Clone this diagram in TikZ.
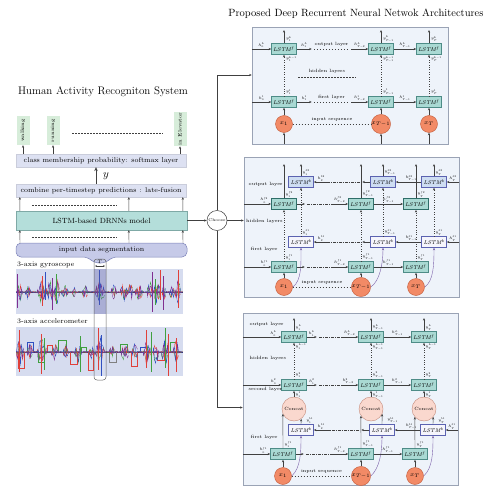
\RequirePackage{fix-cm}
\documentclass[tikz,border=0pt]{standalone}
\usepackage{fontspec}
\usetikzlibrary{calc,arrows.meta}
\definecolor{panelfill}{HTML}{EEF3FA}
\definecolor{panelline}{HTML}{9AA3B5}
\definecolor{ffill}{HTML}{A9D9D3}
\definecolor{fdraw}{HTML}{4E8C87}
\definecolor{fdark}{HTML}{2F6E69}
\definecolor{bdraw}{HTML}{5B62B0}
\definecolor{bfillu}{HTML}{CEDDF2}
\definecolor{bfilll}{HTML}{F5F5FC}
\definecolor{xfill}{HTML}{F28A66}
\definecolor{xdraw}{HTML}{C25A38}
\definecolor{cfill}{HTML}{FAD8CE}
\definecolor{cdraw}{HTML}{C48A7A}
\definecolor{curvec}{HTML}{7A5FA8}
\definecolor{lav}{HTML}{DDE1F2}
\definecolor{modelfill}{HTML}{B4DEDA}
\definecolor{modeldraw}{HTML}{7FA9A6}
\definecolor{segfill}{HTML}{C6CAE8}
\definecolor{segdraw}{HTML}{7C83B8}
\definecolor{tagfill}{HTML}{D7EDDA}
\definecolor{sigbg}{HTML}{D6DCEF}
\definecolor{conncol}{HTML}{404040}
\definecolor{navy}{HTML}{303060}
\definecolor{sred}{HTML}{E0403A}
\definecolor{sgreen}{HTML}{40A040}
\definecolor{sblue}{HTML}{3050C0}
\definecolor{spurp}{HTML}{803090}
\tikzset{
 panel/.style={draw=panelline, fill=panelfill, line width=0.5pt, inner sep=0},
 lab/.style={font=\fontsize{3.8}{4.3}\selectfont, inner sep=0.3pt},
 ltxt/.style={font=\fontsize{4.6}{5}\selectfont, inner sep=0.5pt},
 fcell/.style={draw=fdraw, fill=ffill, minimum width=25, minimum height=11, inner sep=0, font=\fontsize{5.5}{6}\selectfont\itshape, line width=0.5pt},
 fcelld/.style={fcell, draw=fdark, line width=0.9pt},
 bcellu/.style={fcell, draw=bdraw, fill=bfillu},
 bcelll/.style={fcell, draw=bdraw, fill=bfilll},
 xcirc/.style={circle, draw=xdraw, fill=xfill, minimum size=17, inner sep=0, font=\fontsize{6}{7}\selectfont},
 concat/.style={circle, draw=cdraw, fill=cfill, minimum size=24, inner sep=0, font=\fontsize{4.6}{5}\selectfont},
 conn/.style={->, draw=conncol, line width=0.4pt},
 curv/.style={->, draw=curvec, line width=0.4pt},
 dashline/.style={draw=conncol, line width=0.5pt, dash pattern=on 1.5pt off 1.5pt},
 ddot/.style={draw=conncol, line width=0.45pt, dash pattern=on 3pt off 1.2pt on 0.6pt off 1.2pt},
 lbox/.style={fill=lav, draw=lav!80!gray, line width=0.3pt, minimum width=170, minimum height=13, inner sep=0, font=\fontsize{7}{8}\selectfont},
 tag/.style={rotate=90, fill=tagfill, minimum height=13, inner sep=0.5pt, font=\fontsize{5}{6}\selectfont},
}
\begin{document}
\begin{tikzpicture}[x=1pt,y=-1pt, >={Stealth[length=2.6pt,width=2.2pt]}]
\useasboundingbox (0,0) rectangle (495,492);

% ---------------- titles
\node[font=\fontsize{11}{13}\selectfont] (ttl) at (103,92) {Human Activity Recogniton System};
\node[font=\fontsize{10.5}{12}\selectfont] (ttr) at (356,14) {Proposed Deep Recurrent Neural Netwok Architectures};

% ---------------- left column
\node[tag, minimum width=29] (t1) at (23,130.5) {walking};
\node[tag, minimum width=29] (t2) at (53,130.5) {running};
\node[tag, minimum width=32] (t3) at (180,129) {in Elevator};
\draw[dashline] (72,133) -- (163,133);
\node[lbox] (soft) at (101,160.5) {class membership probability: softmax layer};
\node[lbox] (comb) at (101,190.5) {combine per-timestep predictions : late-fusion};
\node[fill=modelfill, draw=modeldraw, line width=0.4pt, minimum width=171, minimum height=19, inner sep=0, font=\fontsize{7.5}{8}\selectfont] (model) at (101.5,220.5) {LSTM-based DRNNs model};
\draw[conn] (soft.north -| t1) -- (t1.west);
\draw[conn] (soft.north -| t2) -- (t2.west);
\draw[conn] (soft.north -| t3) -- (t3.west);
\draw[-{Stealth[length=4pt,width=3.5pt]}, line width=1pt, conncol] ($(comb.north)+(-5,0)$) -- ($(soft.south)+(-5,0)$);
\node[font=\fontsize{11}{12}\selectfont] (ylab) at (106,176) {$y$};
\foreach \k in {4,113,167}{
  \draw[conn] ($(model.north west)+(\k,0)$) -- ($(comb.south west)+(\k,0)$);
}
\draw[dashline] (32,205) -- (117,205);

% segmentation funnel
\draw[fill=segfill, draw=segdraw, line width=0.5pt, rounded corners=5pt] (16,243) -- (187,243) -- (187,257) -- (112,257) -- (106,263) -- (94,263) -- (88,257) -- (16,257) -- cycle;
\node[font=\fontsize{7}{8}\selectfont, inner sep=0] (seg) at (101.5,249.5) {input data segmentation};
\foreach \k in {4,113,167}{
  \draw[conn] ($(seg.center)+(\k-85.5,-6.5)$) -- ($(model.south west)+(\k,0)$);
}
\draw[dashline] (32,237) -- (117,237);

% signals
\node[font=\fontsize{7}{8}\selectfont, anchor=west, inner sep=0] (gyl) at (17,265) {3-axis gyroscope};
\node[font=\fontsize{7}{8}\selectfont, anchor=west, inner sep=0] (acl) at (17,321.5) {3-axis accelerometer};
\pgfmathsetseed{11}
\begin{scope}
\clip (16,269) rectangle (183,314);
\fill[sigbg] (16,269) rectangle (183,314);
\draw[navy, line width=0.6pt] (16,292) -- (183,292);
\foreach \c in {sgreen,sred,sblue,spurp}{
  \draw[\c, line width=0.3pt] (16,292) \foreach \x in {16.5,17.5,...,183}{ -- (\x,{292+0.6*rand}) };
}
\foreach \cc/\ww/\aa in {20/3/10, 28/3/8, 42/5/14, 50/4/12, 57/3/14, 65/4/8, 74/2/6, 85/3/8, 100/5/14, 114/3/9, 124/4/10, 130/3/12, 139/4/10, 150/3/12, 157/4/14, 164/2/10, 172/3/9, 178/3/14}{
  \pgfmathsetmacro\xa{\cc-\ww}
  \pgfmathsetmacro\xb{\cc-\ww+0.5}
  \pgfmathsetmacro\xc{\cc+\ww}
  \foreach \c in {sgreen,sred,sblue,spurp}{
    \draw[\c, line width=0.3pt] (\xa,292) \foreach \x in {\xb,...,\xc}{ -- (\x,{292+\aa*(1-abs(\x-\cc)/(\ww+1))*rand}) };
  }
}
\foreach \x/\c/\a/\b in {17/spurp/274/308,42/sred/276/306,45/sblue/272/300,52/spurp/278/310,56/sgreen/274/304,99/sblue/270/305,152/spurp/272/312,155/sgreen/279/305,160/sred/270/300,163/spurp/276/310,178/sred/270/308}{
  \draw[\c, line width=0.45pt] (\x,\a) -- (\x,\b);
}
\end{scope}
\begin{scope}
\clip (16,327) rectangle (183,376);
\fill[sigbg] (16,327) rectangle (183,376);
\draw[navy, line width=0.6pt] (16,352) -- (183,352);
\foreach \a/\b/\l/\c in {18/24/368/sred, 27/33/342/sblue, 38/44/362/sgreen, 47/52/345/sred, 58/66/340/sgreen, 70/77/364/sred, 81/86/347/sgreen, 88/93/370/sred, 109/116/362/gray, 120/127/344/sgreen, 131/137/366/sred, 140/146/347/sblue, 157/164/360/sred, 170/176/342/sgreen}{
  \draw[\c, line width=0.4pt] (\a,352) -- (\a,\l) -- (\b,\l) -- (\b,352);
}
\foreach \c in {sgreen,sred,sblue,spurp}{
  \draw[\c, line width=0.3pt] (16,352) \foreach \x in {16.5,17.5,...,183}{ -- (\x,{352+0.8*rand}) };
}
\foreach \cc/\ww/\aa in {20/4/16, 30/3/10, 42/5/18, 55/4/10, 66/3/8, 78/4/12, 92/3/8, 100/5/16, 112/3/8, 125/4/12, 135/3/10, 147/4/16, 156/3/14, 165/4/16, 176/3/14}{
  \pgfmathsetmacro\xa{\cc-\ww}
  \pgfmathsetmacro\xb{\cc-\ww+0.5}
  \pgfmathsetmacro\xc{\cc+\ww}
  \foreach \c in {sgreen,sred,sblue,spurp}{
    \draw[\c, line width=0.3pt] (\xa,352) \foreach \x in {\xb,...,\xc}{ -- (\x,{352+\aa*(1-abs(\x-\cc)/(\ww+1))*rand}) };
  }
}
\foreach \x/\c/\a/\b in {19/sred/330/372,41/sred/334/374,44/sgreen/338/370,80/sgreen/336/372,98/sred/328/370,101/sblue/335/376,146/sred/330/368,151/sgreen/332/372,165/sgreen/328/368,168/sred/334/376,176/sred/338/372}{
  \draw[\c, line width=0.45pt] (\x,\a) -- (\x,\b);
}
\end{scope}
\fill[gray!70!blue, opacity=0.35] (94,269) rectangle (106,314);
\draw[gray!80!black, line width=0.5pt, rounded corners=3pt] (94,259) rectangle (106,380);
\draw[<->, conncol, line width=0.35pt, >={Stealth[length=1.8pt,width=1.6pt]}] (95,266) -- (105,266);
\node[font=\fontsize{5}{6}\selectfont, inner sep=0] (Tl) at (100,262) {$T$};

% ---------------- choose
\node[circle, draw=conncol, fill=white, minimum size=20, inner sep=0, line width=0.5pt, font=\fontsize{4}{5}\selectfont] (choose) at (217,220.5) {Choose};
\draw[conn] (model.east) -- (choose.west);
\coordinate (jt) at (217,75);
\coordinate (jb) at (217,407.5);
\draw[conncol, line width=0.5pt] (choose.north) -- (jt);
\draw[conncol, line width=0.5pt] (choose.south) -- (jb);

% ================= panel 1
\node[panel, minimum width=196, minimum height=117] (P1) at (350,85.5) {};
\draw[conn] (jt) -- (P1.west |- jt);
\foreach \i/\cx/\xl/\s in {1/284/{x_1}/1, 2/381/{x_{T-1}}/{T-1}, 3/429/{x_T}/T}{
  \node[fcell] (A1\i) at (\cx,49) {LSTM$^f$};
  \node[fcell] (A2\i) at (\cx,102) {LSTM$^f$};
  \node[xcirc] (AX\i) at (\cx,124) {$\xl$};
  \draw[conn] (AX\i.south |- P1.south) -- (AX\i);
  \draw[conn] (AX\i) -- (A2\i);
  \draw[conn, dotted] (A2\i) -- (A1\i);
  \draw[conn] (A1\i.north) -- (\cx,30);
  \node[lab, anchor=south west] at ($(A1\i.north)+(1.5,-1)$) {$y^L_{\s}$};
  \node[lab, anchor=north west] at ($(A1\i.south)+(1.5,1)$) {$y^{L-1}_{\s}$};
  \node[lab, anchor=south west] at ($(A2\i.north)+(1.5,-1)$) {$y^1_{\s}$};
}
\draw[conn] (P1.west |- A11) -- node[lab, above=0.5pt]{$h_0^L$} (A11);
\draw[conn] (A11.east) -- node[lab, above=0.5pt]{$h_1^L$} ++(15,0);
\draw[dashline] ($(A11.east)+(17,0)$) -- node[ltxt, above=1.5pt]{output layer} ($(A12.west)+(-19,0)$);
\draw[conn] ($(A12.west)+(-17,0)$) -- node[lab, above=0.5pt]{$h^L_{T-2}$} (A12.west);
\draw[conn] (A12) -- node[lab, above=0.5pt]{$h^L_{T-1}$} (A13);
\draw[conn] (P1.west |- A21) -- node[lab, above=0.5pt]{$h_0^1$} (A21);
\draw[conn] (A21.east) -- node[lab, above=0.5pt]{$h_1^1$} ++(15,0);
\draw[dashline] ($(A21.east)+(17,0)$) -- node[ltxt, above=1.5pt]{first layer} ($(A22.west)+(-19,0)$);
\draw[conn] ($(A22.west)+(-17,0)$) -- node[lab, above=0.5pt]{$h^1_{T-2}$} (A22.west);
\draw[conn] (A22) -- node[lab, above=0.5pt]{$h^1_{T-1}$} (A23);
\node[ltxt] (Ahid) at (327,71) {hidden layers};
\draw[dashline] (298,77) -- (356,77);
\draw[dashline] (AX1) -- node[ltxt, above=1.5pt]{input sequence} (AX2);

% ================= panel 2
\node[panel, minimum width=215, minimum height=140] (P2) at (351.5,227) {};
\draw[conn] (choose.east) -- (P2.west |- choose.east);
\foreach \i/\fx/\bx/\xl/\s in {1/284/301/{x_1}/1, 2/361/383/{x_{T-1}}/{T-1}, 3/416/434/{x_T}/T}{
  \node[fcelld] (Bf2\i) at (\fx,204) {LSTM$^f$};
  \node[bcellu] (Bb2\i) at (\bx,182) {LSTM$^b$};
  \node[bcelll] (Bb1\i) at (\bx,242) {LSTM$^b$};
  \node[fcell] (Bf1\i) at (\fx,267) {LSTM$^f$};
  \node[xcirc] (Bx\i) at (\fx,287) {$\xl$};
  \draw[conn] (Bx\i) -- (Bf1\i);
  \draw[conn, dotted] (Bf1\i) -- (Bf2\i);
  \draw[conn] (Bf2\i.north) -- (\fx,164);
  \draw[curv] (Bx\i.east) .. controls +(9,-6) and +(0,16) .. (Bb1\i.south);
  \draw[conn, dotted] (Bb1\i) -- (Bb2\i);
  \draw[conn] (Bb2\i.north) -- (\bx,164);
  \node[lab, anchor=south west] at ($(Bf2\i.north)+(1.2,-0.5)$) {$y^{f2}_{\s}$};
  \node[lab, anchor=south west] at ($(Bb2\i.north)+(1.2,-0.5)$) {$y^{b2}_{\s}$};
  \node[lab, anchor=south west] at ($(Bb1\i.north)+(1.2,-0.5)$) {$y^{b1}_{\s}$};
  \node[lab, anchor=south west] at ($(Bf1\i.north)+(1.2,-0.5)$) {$y^{f1}_{\s}$};
}
\draw[conn] (P2.west |- Bf21) -- node[lab, above=0.5pt, pos=0.75]{$h_0^{f2}$} (Bf21);
\draw[conn] (Bf21.east) -- ++(8,0);
\draw[ddot] ($(Bf21.east)+(10,0)$) -- ($(Bf22.west)+(-17,0)$);
\draw[conn] ($(Bf22.west)+(-17,0)$) -- node[lab, above=0.5pt]{$h^{f2}_{T-2}$} (Bf22.west);
\draw[conn] (Bf22) -- node[lab, above=0.5pt]{$h^{f2}_{T-1}$} (Bf23);
\draw[conn] (P2.west |- Bf11) -- node[lab, above=0.5pt, pos=0.75]{$h_0^{f1}$} (Bf11);
\draw[conn] (Bf11.east) -- ++(8,0);
\draw[ddot] ($(Bf11.east)+(10,0)$) -- ($(Bf12.west)+(-17,0)$);
\draw[conn] ($(Bf12.west)+(-17,0)$) -- node[lab, above=0.5pt]{$h^{f1}_{T-2}$} (Bf12.west);
\draw[conn] (Bf12) -- node[lab, above=0.5pt]{$h^{f1}_{T-1}$} (Bf13);
\draw[conn] (P2.east |- Bb23) -- node[lab, above=0.5pt]{$h^{b2}_T$} (Bb23);
\draw[conn] (Bb23) -- node[lab, above=0.5pt, pos=0.4]{$h^{b2}_{T-1}$} (Bb22);
\draw[conn] (Bb22.west) -- ++(-8,0);
\draw[ddot] ($(Bb22.west)+(-10,0)$) -- ($(Bb21.east)+(15,0)$);
\draw[conn] ($(Bb21.east)+(15,0)$) -- node[lab, above=0.5pt]{$h^{b2}_{2}$} (Bb21.east);
\draw[conn] (P2.east |- Bb13) -- node[lab, above=0.5pt]{$h^{b1}_T$} (Bb13);
\draw[conn] (Bb13) -- node[lab, above=0.5pt, pos=0.4]{$h^{b1}_{T-1}$} (Bb12);
\draw[conn] (Bb12.west) -- ++(-8,0);
\draw[ddot] ($(Bb12.west)+(-10,0)$) -- ($(Bb11.east)+(15,0)$);
\draw[conn] ($(Bb11.east)+(15,0)$) -- node[lab, above=0.5pt]{$h^{b1}_{2}$} (Bb11.east);
\node[ltxt, anchor=west] (Bout) at (248,184) {output layer};
\node[ltxt, anchor=west] (Bhid) at (245.5,221) {hidden layers};
\node[ltxt, anchor=west] (Bfir) at (250,249) {first layer};
\draw[dashline] (Bx1) -- node[ltxt, above=1.5pt]{input sequence} (Bx2);

% ================= panel 3
\node[panel, minimum width=215, minimum height=172] (P3) at (350.5,399) {};
\draw[conn] (jb) -- (P3.west |- jb);
\foreach \i/\fx/\bx/\cx/\fa/\ba/\xl/\s in {1/283/301/294/204/-54/{x_1}/1, 2/361/382/371/214/-24/{x_{T-1}}/{T-1}, 3/415/433/424/221/-41/{x_T}/T}{
  \node[fcell] (Ct\i) at (\cx,337) {LSTM$^f$};
  \node[fcell] (Cs\i) at (\cx,385) {LSTM$^f$};
  \node[concat] (Cc\i) at (\cx,409) {Concat};
  \node[bcelll] (Cb\i) at (\bx,430) {LSTM$^b$};
  \node[fcell] (Cf\i) at (\fx,454) {LSTM$^f$};
  \node[xcirc] (Cx\i) at (\fx,476) {$\xl$};
  \draw[conn] (Cx\i) -- (Cf\i);
  \draw[conn] (Cf\i.north) -- (Cc\i.\fa);
  \draw[conn] (Cb\i.north) -- (Cc\i.\ba);
  \draw[conn] (Cc\i) -- (Cs\i);
  \draw[conn, dotted] (Cs\i) -- (Ct\i);
  \draw[conn] (Ct\i.north) -- (\cx,318);
  \draw[curv] (Cx\i.east) .. controls +(9,-8) and +(0,16) .. (Cb\i.south);
  \node[lab, anchor=south west] at ($(Ct\i.north)+(1.2,-0.5)$) {$y^L_{\s}$};
  \node[lab, anchor=north west] at ($(Ct\i.south)+(1.2,0.8)$) {$y^{L-1}_{\s}$};
  \node[lab, anchor=south west] at ($(Cs\i.north)+(1.2,-1.2)$) {$y^2_{\s}$};
  \node[lab, anchor=north west] at ($(Cs\i.south)+(1.2,0.8)$) {$y^1_{\s}$};
  \node[lab, anchor=south west] at ($(Cb\i.north east)+(-8,-0.5)$) {$y^{b1}_{\s}$};
  \node[lab, anchor=south west] at ($(Cf\i.north)+(1.2,-0.5)$) {$y^{f1}_{\s}$};
}
\draw[conn] (P3.west |- Ct1) -- node[lab, above=0.5pt, pos=0.8]{$h_0^L$} (Ct1);
\draw[conn] (Ct1.east) -- node[lab, above=0.5pt]{$h_1^L$} ++(10,0);
\draw[ddot] ($(Ct1.east)+(12,0)$) -- ($(Ct2.west)+(-17,0)$);
\draw[conn] ($(Ct2.west)+(-17,0)$) -- node[lab, above=0.5pt]{$h^L_{T-2}$} (Ct2.west);
\draw[conn] (Ct2) -- node[lab, above=0.5pt]{$h^L_{T-1}$} (Ct3);
\draw[conn] (P3.west |- Cs1) -- node[lab, above=0.5pt, pos=0.8]{$h_0^2$} (Cs1);
\draw[conn] (Cs1.east) -- node[lab, above=0.5pt]{$h_1^2$} ++(10,0);
\draw[ddot] ($(Cs1.east)+(12,0)$) -- ($(Cs2.west)+(-17,0)$);
\draw[conn] ($(Cs2.west)+(-17,0)$) -- node[lab, above=0.5pt, pos=0.4]{$h^2_{T-2}$} (Cs2.west);
\draw[conn] (Cs2) -- node[lab, above=0.5pt]{$h^2_{T-1}$} (Cs3);
\draw[conn] (P3.east |- Cb3) -- node[lab, above=0.5pt]{$h^{b1}_T$} (Cb3);
\draw[conn] (Cb3) -- node[lab, above=0.5pt, pos=0.35]{$h^{b1}_{T-1}$} (Cb2);
\draw[conn] (Cb2.west) -- ++(-8,0);
\draw[ddot] ($(Cb2.west)+(-10,0)$) -- ($(Cb1.east)+(15,0)$);
\draw[conn] ($(Cb1.east)+(15,0)$) -- node[lab, above=0.5pt]{$h^{b1}_{2}$} (Cb1.east);
\draw[conn] (P3.west |- Cf1) -- node[lab, above=0.5pt, pos=0.75]{$h_0^{f1}$} (Cf1);
\draw[conn] (Cf1.east) -- ++(8,0);
\draw[ddot] ($(Cf1.east)+(10,0)$) -- ($(Cf2.west)+(-17,0)$);
\draw[conn] ($(Cf2.west)+(-17,0)$) -- node[lab, above=0.5pt]{$h^{f1}_{T-2}$} (Cf2.west);
\draw[conn] (Cf2) -- node[lab, above=0.5pt]{$h^{f1}_{T-1}$} (Cf3);
\node[ltxt, anchor=west] (Cout) at (249,324) {output layer};
\node[ltxt, anchor=west] (Chid) at (249,358) {hidden layers};
\node[ltxt, anchor=west] (Csec) at (248,389) {second layer};
\node[ltxt, anchor=west] (Cfir) at (250,437) {first layer};
\draw[dashline] (Cx1) -- node[ltxt, above=1.5pt]{input sequence} (Cx2);
\end{tikzpicture}
\end{document}
